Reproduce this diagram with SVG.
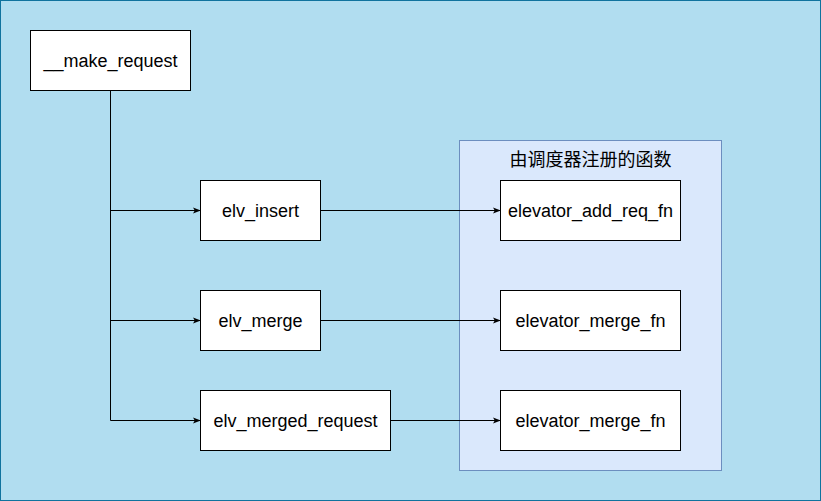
<svg xmlns="http://www.w3.org/2000/svg" width="821" height="501" viewBox="0 0 821 501">
<style>
.box{fill:#ffffff;stroke:#000000;stroke-width:1}
.lbl{font-family:"Liberation Sans",Arial,sans-serif;font-size:18px;fill:#000000;text-anchor:middle}
.cjk{font-family:"Liberation Sans","Noto Sans CJK SC",sans-serif;font-size:18px;fill:#000000;text-anchor:middle}
.edge{fill:none;stroke:#000000;stroke-width:1}
</style>
<defs>
<marker id="arr" viewBox="0 0 10 10" refX="9" refY="5" markerWidth="8" markerHeight="8" markerUnits="userSpaceOnUse" orient="auto">
<path d="M0,1 L10,5 L0,9 L2.5,5 Z" fill="#000000"/>
</marker>
</defs>
<g id="background">
<rect x="0.5" y="0.5" width="820" height="500" fill="#b1ddf0" stroke="#10739e"/>
</g>
<g id="container">
<rect x="459.5" y="140.5" width="262" height="330" fill="#dae8fc" stroke="#6c8ebf"/>
<text class="cjk" x="590.5" y="166">由调度器注册的函数</text>
</g>
<g id="connectors">
<path class="edge" d="M110.5,90.5 L110.5,420.5"/>
<path class="edge" d="M110.5,210.5 L200,210.5" marker-end="url(#arr)"/>
<path class="edge" d="M110.5,320.5 L200,320.5" marker-end="url(#arr)"/>
<path class="edge" d="M110.5,420.5 L200,420.5" marker-end="url(#arr)"/>
<path class="edge" d="M320.5,210.5 L500,210.5" marker-end="url(#arr)"/>
<path class="edge" d="M320.5,320.5 L500,320.5" marker-end="url(#arr)"/>
<path class="edge" d="M390.5,420.5 L500,420.5" marker-end="url(#arr)"/>
</g>
<g id="make_request">
<rect class="box" x="30.5" y="30.5" width="160" height="60"/>
<text class="lbl" x="110.5" y="66.5">__make_request</text>
</g>
<g id="elv_insert">
<rect class="box" x="200.5" y="180.5" width="120" height="60"/>
<text class="lbl" x="260.5" y="216.5">elv_insert</text>
</g>
<g id="elv_merge">
<rect class="box" x="200.5" y="290.5" width="120" height="60"/>
<text class="lbl" x="260.5" y="326.5">elv_merge</text>
</g>
<g id="elv_merged_request">
<rect class="box" x="200.5" y="390.5" width="190" height="60"/>
<text class="lbl" x="295.5" y="426.5">elv_merged_request</text>
</g>
<g id="elevator_add_req_fn">
<rect class="box" x="500.5" y="180.5" width="180" height="60"/>
<text class="lbl" x="590.5" y="216.5">elevator_add_req_fn</text>
</g>
<g id="elevator_merge_fn_1">
<rect class="box" x="500.5" y="290.5" width="180" height="60"/>
<text class="lbl" x="590.5" y="326.5">elevator_merge_fn</text>
</g>
<g id="elevator_merge_fn_2">
<rect class="box" x="500.5" y="390.5" width="180" height="60"/>
<text class="lbl" x="590.5" y="426.5">elevator_merge_fn</text>
</g>
</svg>
